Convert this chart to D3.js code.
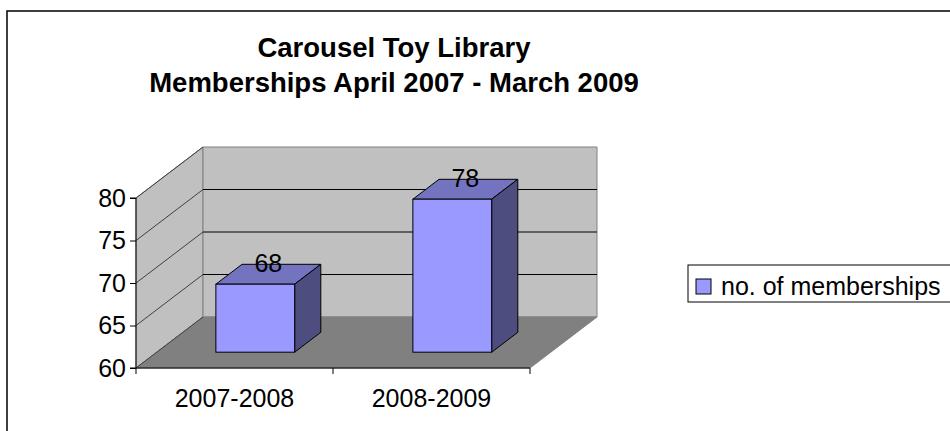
<!DOCTYPE html>
<html>
<head>
<meta charset="utf-8">
<script src="https://cdn.jsdelivr.net/npm/d3@7"></script>
<style>
  body { margin: 0; background: #fff; }
  svg text { font-family: "Liberation Sans", Arial, sans-serif; fill: #000; }
</style>
</head>
<body>
<svg width="950" height="431"></svg>
<script>
// chart data
const categories = ["2007-2008", "2008-2009"];
const memberships = [68, 78];
const yTicks = [60, 65, 70, 75, 80];
const seriesName = "no. of memberships";
const titleLines = ["Carousel Toy Library", "Memberships April 2007 - March 2009"];

const svg = d3.select("svg");
const fontSize = 25;

// plot geometry (front plane + depth vector of the 3d box)
const x0 = 136, x1 = 530;
const yBottom = 368, yTop = 198;
const depth = [67, -51];
const barFront = 0.31, barBack = 0.70;

const x = d3.scaleBand()
    .domain(categories)
    .range([x0, x1])
    .paddingInner(0.6)
    .paddingOuter(0.3);
const y = d3.scaleLinear().domain([60, 80]).range([yBottom, yTop]);

const off = (t) => [depth[0] * t, depth[1] * t];
const pts = (arr) => arr.map(p => p.join(",")).join(" ");

// chart frame
svg.append("rect")
    .attr("x", 7).attr("y", 11)
    .attr("width", 1000).attr("height", 500)
    .attr("fill", "#fff")
    .attr("stroke", "#000")
    .attr("stroke-width", 1.5);

// title
svg.append("g").selectAll("text")
    .data(titleLines)
    .join("text")
    .attr("x", 394)
    .attr("y", (d, i) => 57 + i * 35)
    .attr("text-anchor", "middle")
    .attr("font-size", 27.5)
    .attr("font-weight", "bold")
    .text(d => d);

const [dx, dy] = off(1);

// walls and floor
svg.append("polygon")
    .attr("points", pts([[x0, y(80)], [x0 + dx, y(80) + dy], [x0 + dx, yBottom + dy], [x0, yBottom]]))
    .attr("fill", "#c0c0c0").attr("stroke", "#808080");
svg.append("polygon")
    .attr("points", pts([[x0 + dx, y(80) + dy], [x1 + dx, y(80) + dy], [x1 + dx, yBottom + dy], [x0 + dx, yBottom + dy]]))
    .attr("fill", "#c0c0c0").attr("stroke", "#808080");
svg.append("polygon")
    .attr("points", pts([[x0, yBottom], [x1, yBottom], [x1 + dx, yBottom + dy], [x0 + dx, yBottom + dy]]))
    .attr("fill", "#808080").attr("stroke", "#808080");

// gridlines
const grid = svg.append("g").attr("stroke", "#000").attr("stroke-width", 1);
yTicks.filter(t => t > 60 && t < 80).forEach(t => {
    grid.append("line")
        .attr("x1", x0 + dx).attr("y1", y(t) + dy)
        .attr("x2", x1 + dx).attr("y2", y(t) + dy);
});
yTicks.forEach(t => {
    grid.append("line")
        .attr("x1", x0).attr("y1", y(t))
        .attr("x2", x0 + dx).attr("y2", y(t) + dy)
        .attr("stroke", "#404040");
});

// y axis
svg.append("g")
    .attr("transform", `translate(${x0},0)`)
    .call(d3.axisLeft(y).tickValues(yTicks).tickSize(6).tickPadding(4))
    .call(g => g.select(".domain").attr("d", `M-6,${yTop}H0V${yBottom}H-6`))
    .call(g => g.selectAll("text").attr("font-size", fontSize).attr("font-family", null))
    .call(g => g.selectAll("line,path").attr("stroke", "#000"));

// x axis: line with ticks at category boundaries, labels at centers
const step = x.step();
const xAxis = svg.append("g").attr("transform", `translate(0,${yBottom})`);
xAxis.append("line").attr("x1", x0).attr("x2", x1).attr("stroke", "#000");
xAxis.selectAll(".tick-b")
    .data(d3.range(categories.length + 1))
    .join("line")
    .attr("x1", i => x0 + i * step).attr("x2", i => x0 + i * step)
    .attr("y1", 0).attr("y2", 6)
    .attr("stroke", "#000");
xAxis.selectAll("text")
    .data(categories)
    .join("text")
    .attr("x", d => x(d) + x.bandwidth() / 2)
    .attr("y", 39)
    .attr("text-anchor", "middle")
    .attr("font-size", fontSize)
    .text(d => d);

// bars
const [fx, fy] = off(barFront);
const [bx, by] = off(barBack);
const bars = svg.append("g").attr("stroke", "#000").attr("stroke-width", 1)
    .selectAll("g")
    .data(categories.map((c, i) => ({ c, v: memberships[i] })))
    .join("g");

bars.append("polygon") // top
    .attr("fill", "#7373bf")
    .attr("points", d => {
        const l = x(d.c), r = l + x.bandwidth(), t = y(d.v);
        return pts([[l + fx, t + fy], [r + fx, t + fy], [r + bx, t + by], [l + bx, t + by]]);
    });
bars.append("polygon") // side
    .attr("fill", "#4d4d80")
    .attr("points", d => {
        const r = x(d.c) + x.bandwidth(), t = y(d.v);
        return pts([[r + fx, t + fy], [r + bx, t + by], [r + bx, yBottom + by], [r + fx, yBottom + fy]]);
    });
bars.append("rect") // front
    .attr("fill", "#9999ff")
    .attr("x", d => x(d.c) + fx)
    .attr("y", d => y(d.v) + fy)
    .attr("width", x.bandwidth())
    .attr("height", d => yBottom - y(d.v));

// value labels
const mid = off((barFront + barBack) / 2);
svg.append("g").selectAll("text")
    .data(categories.map((c, i) => ({ c, v: memberships[i] })))
    .join("text")
    .attr("x", d => x(d.c) + x.bandwidth() / 2 + mid[0])
    .attr("y", d => y(d.v) + mid[1] - 2)
    .attr("text-anchor", "middle")
    .attr("font-size", fontSize)
    .text(d => d.v);

// legend
const legend = svg.append("g");
legend.append("rect")
    .attr("x", 688).attr("y", 265)
    .attr("width", 300).attr("height", 37)
    .attr("fill", "#fff").attr("stroke", "#000");
legend.append("rect")
    .attr("x", 696).attr("y", 279)
    .attr("width", 15).attr("height", 15)
    .attr("fill", "#9999ff").attr("stroke", "#000");
legend.append("text")
    .attr("x", 721).attr("y", 295)
    .attr("font-size", fontSize)
    .text(seriesName);
</script>
</body>
</html>
